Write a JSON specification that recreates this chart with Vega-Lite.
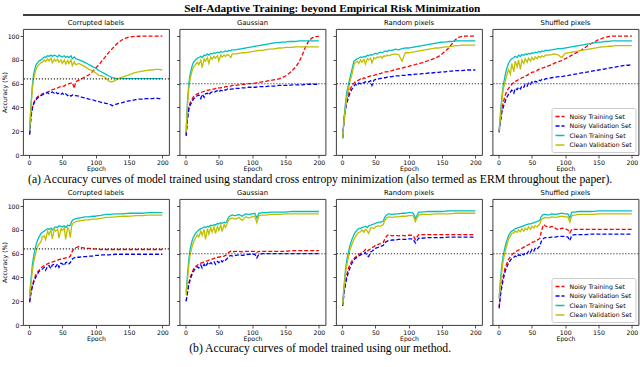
{
"$schema": "https://vega.github.io/schema/vega-lite/v6.json",
"padding": {"left": 0, "right": 0, "top": 2, "bottom": 0},
"background": "white",
"title": {"text": "Self-Adaptive Training: beyond Empirical Risk Minimization", "font": "Liberation Serif", "fontSize": 11.3, "fontWeight": "bold", "anchor": "middle", "offset": 0, "color": "#000"},
"spacing": 3,
"datasets": {
"a1": [
{"e":1,"nt":18,"nv":17,"ct":20,"cv":22},{"e":3,"nt":33,"nv":32,"ct":42,"cv":40},{"e":5,"nt":40,"nv":39,"ct":58,"cv":55},{"e":7,"nt":44,"nv":43,"ct":68,"cv":64},{"e":10,"nt":47,"nv":46,"ct":75,"cv":71},{"e":12,"nt":48.5,"nv":47.5,"ct":77,"cv":74},{"e":15,"nt":50,"nv":49,"ct":79,"cv":76},{"e":18,"nt":50.5,"nv":50,"ct":80,"cv":77.5},{"e":20,"nt":51.5,"nv":50.5,"ct":81,"cv":78},{"e":23,"nt":52,"nv":51.5,"ct":82.5,"cv":80},{"e":25,"nt":52.5,"nv":52,"ct":82,"cv":78.5},{"e":28,"nt":53,"nv":52.5,"ct":83.5,"cv":81},{"e":30,"nt":53.5,"nv":51.5,"ct":83,"cv":79},{"e":33,"nt":54,"nv":52.5,"ct":84,"cv":81.5},{"e":35,"nt":55,"nv":53,"ct":83,"cv":77.5},{"e":38,"nt":55.5,"nv":52,"ct":84,"cv":80.5},{"e":40,"nt":56,"nv":53,"ct":83.5,"cv":79},{"e":43,"nt":56.5,"nv":51.5,"ct":82.5,"cv":80.5},{"e":45,"nt":57,"nv":52,"ct":84,"cv":78},{"e":48,"nt":57.5,"nv":51,"ct":83,"cv":80},{"e":50,"nt":58,"nv":52,"ct":82.5,"cv":77},{"e":53,"nt":58,"nv":50.5,"ct":83.5,"cv":80},{"e":55,"nt":59,"nv":51.5,"ct":82,"cv":76.5},{"e":58,"nt":59.5,"nv":50,"ct":83,"cv":79.5},{"e":60,"nt":60,"nv":51,"ct":82,"cv":77},{"e":63,"nt":60.5,"nv":49.5,"ct":83.5,"cv":80},{"e":65,"nt":61,"nv":50.5,"ct":81,"cv":75},{"e":68,"nt":56,"nv":50,"ct":82.5,"cv":78.5},{"e":70,"nt":61.5,"nv":50,"ct":81,"cv":76},{"e":75,"nt":63,"nv":49.5,"ct":80,"cv":77},{"e":80,"nt":64.5,"nv":48.5,"ct":79,"cv":75.5},{"e":85,"nt":66,"nv":48,"ct":77.5,"cv":74},{"e":90,"nt":67.5,"nv":47,"ct":76,"cv":72},{"e":95,"nt":70,"nv":46.5,"ct":74.5,"cv":71},{"e":100,"nt":73,"nv":45.5,"ct":73,"cv":69},{"e":105,"nt":76,"nv":45,"ct":71,"cv":67},{"e":110,"nt":79.5,"nv":44,"ct":69.5,"cv":66.5},{"e":115,"nt":83,"nv":43.5,"ct":68,"cv":65},{"e":120,"nt":86.5,"nv":43,"ct":66.5,"cv":62},{"e":125,"nt":89.5,"nv":41.5,"ct":65,"cv":61.5},{"e":130,"nt":92.5,"nv":42.5,"ct":64.5,"cv":63},{"e":135,"nt":95,"nv":43.5,"ct":64.2,"cv":64.5},{"e":140,"nt":97,"nv":44,"ct":64.2,"cv":65.5},{"e":145,"nt":98.3,"nv":45,"ct":64.2,"cv":66.5},{"e":150,"nt":99.2,"nv":45.5,"ct":64.2,"cv":67.5},{"e":155,"nt":99.6,"nv":46,"ct":64.2,"cv":68.5},{"e":160,"nt":99.8,"nv":46.5,"ct":64.2,"cv":69.5},{"e":165,"nt":99.9,"nv":47,"ct":64.2,"cv":70},{"e":170,"nt":100,"nv":47,"ct":64.2,"cv":70.5},{"e":175,"nt":100,"nv":47.5,"ct":64.2,"cv":71},{"e":180,"nt":100,"nv":47.5,"ct":64.2,"cv":71.5},{"e":185,"nt":100,"nv":47.5,"ct":64.2,"cv":71.5},{"e":190,"nt":100,"nv":48,"ct":64.2,"cv":72},{"e":195,"nt":100,"nv":47.5,"ct":64.2,"cv":72},{"e":200,"nt":100,"nv":47.5,"ct":64.2,"cv":71.5}
],
"a2": [
{"e":1,"nt":17,"nv":16,"ct":20,"cv":19},{"e":3,"nt":32,"nv":30,"ct":45,"cv":42},{"e":5,"nt":40,"nv":38,"ct":60,"cv":56},{"e":7,"nt":44,"nv":42,"ct":68,"cv":64},{"e":10,"nt":47,"nv":45,"ct":75,"cv":71},{"e":12,"nt":49,"nv":47,"ct":78,"cv":74},{"e":15,"nt":50.5,"nv":48.5,"ct":80,"cv":76},{"e":18,"nt":51.5,"nv":50,"ct":81.5,"cv":78},{"e":20,"nt":52,"nv":50.5,"ct":82,"cv":76},{"e":23,"nt":52.5,"nv":47.5,"ct":83,"cv":80},{"e":25,"nt":53,"nv":51,"ct":82,"cv":73.5},{"e":28,"nt":53.5,"nv":48.5,"ct":84,"cv":81},{"e":30,"nt":54,"nv":51.5,"ct":83.5,"cv":79},{"e":33,"nt":54.5,"nv":52,"ct":85,"cv":82},{"e":35,"nt":54.5,"nv":50.5,"ct":84,"cv":77},{"e":38,"nt":55,"nv":52.5,"ct":85.5,"cv":82.5},{"e":40,"nt":55.5,"nv":53,"ct":85,"cv":80.5},{"e":43,"nt":55.5,"nv":52.5,"ct":86,"cv":83},{"e":45,"nt":56,"nv":53.5,"ct":85.5,"cv":81.5},{"e":48,"nt":56,"nv":54,"ct":86.5,"cv":83.5},{"e":50,"nt":56.5,"nv":53,"ct":86,"cv":79},{"e":53,"nt":56.5,"nv":54.5,"ct":87,"cv":84},{"e":55,"nt":57,"nv":54,"ct":86.5,"cv":82.5},{"e":58,"nt":57,"nv":55,"ct":87,"cv":84},{"e":60,"nt":57.5,"nv":54.5,"ct":87.5,"cv":83},{"e":63,"nt":57.5,"nv":55.5,"ct":87,"cv":84.5},{"e":65,"nt":58,"nv":55,"ct":88,"cv":84},{"e":68,"nt":58,"nv":55.5,"ct":87.5,"cv":82},{"e":70,"nt":58.5,"nv":55.5,"ct":88.5,"cv":85},{"e":75,"nt":58.5,"nv":56,"ct":88.5,"cv":85},{"e":80,"nt":59,"nv":56,"ct":89,"cv":85.5},{"e":85,"nt":59.5,"nv":56.5,"ct":89.5,"cv":86},{"e":90,"nt":59.5,"nv":56.5,"ct":90,"cv":86},{"e":95,"nt":60,"nv":57,"ct":90.5,"cv":86.5},{"e":100,"nt":60,"nv":57,"ct":91,"cv":87},{"e":105,"nt":60.5,"nv":57,"ct":91.5,"cv":87.5},{"e":110,"nt":61,"nv":57.5,"ct":92,"cv":88},{"e":115,"nt":61.5,"nv":57.5,"ct":92.5,"cv":88},{"e":120,"nt":62,"nv":57.5,"ct":93,"cv":88.5},{"e":125,"nt":62.5,"nv":58,"ct":93.5,"cv":89},{"e":130,"nt":63,"nv":58,"ct":94,"cv":89},{"e":135,"nt":63.5,"nv":58,"ct":94.5,"cv":89.5},{"e":140,"nt":64,"nv":58.5,"ct":94.5,"cv":90},{"e":145,"nt":65,"nv":58.5,"ct":95,"cv":90},{"e":150,"nt":66.5,"nv":58.5,"ct":95,"cv":90.5},{"e":155,"nt":68.5,"nv":58.5,"ct":95.5,"cv":90.5},{"e":160,"nt":71,"nv":59,"ct":95.5,"cv":90.5},{"e":165,"nt":74,"nv":59,"ct":95.5,"cv":91},{"e":170,"nt":78,"nv":59,"ct":96,"cv":91},{"e":175,"nt":84,"nv":59,"ct":96,"cv":91},{"e":180,"nt":91,"nv":59.5,"ct":96,"cv":91},{"e":185,"nt":96,"nv":59.5,"ct":96,"cv":91},{"e":190,"nt":98.5,"nv":59.5,"ct":96,"cv":91},{"e":195,"nt":99.5,"nv":59.5,"ct":96,"cv":91},{"e":200,"nt":99.8,"nv":59.5,"ct":96,"cv":91}
],
"a3": [
{"e":1,"nt":15,"nv":14,"ct":14.5,"cv":14.5},{"e":3,"nt":30,"nv":28,"ct":30,"cv":28},{"e":5,"nt":40,"nv":37,"ct":42,"cv":38},{"e":7,"nt":46,"nv":43,"ct":52,"cv":48},{"e":10,"nt":52,"nv":49,"ct":60,"cv":56},{"e":12,"nt":55,"nv":52,"ct":65,"cv":62},{"e":15,"nt":58.5,"nv":55.5,"ct":72,"cv":68},{"e":18,"nt":60.5,"nv":58,"ct":79,"cv":76},{"e":20,"nt":61.5,"nv":59.5,"ct":80,"cv":78},{"e":23,"nt":62.5,"nv":58.5,"ct":81,"cv":79},{"e":25,"nt":63,"nv":60.5,"ct":81.5,"cv":77},{"e":28,"nt":64,"nv":60,"ct":82.5,"cv":80},{"e":30,"nt":63.5,"nv":61,"ct":82,"cv":78},{"e":33,"nt":65,"nv":60.5,"ct":83,"cv":80.5},{"e":35,"nt":64.5,"nv":61.5,"ct":82.5,"cv":76.5},{"e":38,"nt":65.5,"nv":62,"ct":84,"cv":81},{"e":40,"nt":66,"nv":61.5,"ct":83.5,"cv":80},{"e":43,"nt":66.5,"nv":62.5,"ct":84.5,"cv":81.5},{"e":45,"nt":66.5,"nv":58.5,"ct":84,"cv":77.5},{"e":48,"nt":67,"nv":63,"ct":85,"cv":82},{"e":50,"nt":67.5,"nv":63.5,"ct":85.5,"cv":81},{"e":53,"nt":68,"nv":63.5,"ct":85,"cv":82.5},{"e":55,"nt":68.5,"nv":64,"ct":86,"cv":82},{"e":58,"nt":68.5,"nv":64.5,"ct":86.5,"cv":83},{"e":60,"nt":69,"nv":64.5,"ct":86,"cv":81.5},{"e":63,"nt":69.5,"nv":65,"ct":87,"cv":83.5},{"e":65,"nt":70,"nv":65,"ct":87.5,"cv":83},{"e":68,"nt":70,"nv":65.5,"ct":87,"cv":84},{"e":70,"nt":70.5,"nv":65.5,"ct":88,"cv":83.5},{"e":75,"nt":71,"nv":66,"ct":88,"cv":84.5},{"e":80,"nt":72,"nv":66.5,"ct":89,"cv":85},{"e":85,"nt":72.5,"nv":66.5,"ct":88.5,"cv":84.5},{"e":90,"nt":73,"nv":67,"ct":89.5,"cv":79},{"e":95,"nt":74,"nv":67,"ct":90,"cv":86},{"e":100,"nt":74.5,"nv":67.5,"ct":90,"cv":86},{"e":105,"nt":75.5,"nv":67.5,"ct":90.5,"cv":86.5},{"e":110,"nt":76,"nv":68,"ct":91,"cv":87},{"e":115,"nt":77,"nv":68,"ct":91.5,"cv":87.5},{"e":120,"nt":77.5,"nv":68.5,"ct":92,"cv":88},{"e":125,"nt":78.5,"nv":68.5,"ct":92.5,"cv":88.5},{"e":130,"nt":79.5,"nv":69,"ct":93,"cv":89},{"e":135,"nt":80.5,"nv":69,"ct":93.5,"cv":89.5},{"e":140,"nt":81.5,"nv":69.5,"ct":94,"cv":90},{"e":145,"nt":83,"nv":69.5,"ct":94.5,"cv":90},{"e":150,"nt":85,"nv":70,"ct":95,"cv":90.5},{"e":155,"nt":87.5,"nv":70,"ct":95,"cv":91},{"e":160,"nt":90,"nv":70.5,"ct":95.5,"cv":91},{"e":165,"nt":93.5,"nv":70.5,"ct":95.5,"cv":91.5},{"e":170,"nt":97,"nv":71,"ct":96,"cv":92},{"e":175,"nt":99,"nv":71,"ct":96,"cv":92},{"e":180,"nt":99.8,"nv":71,"ct":96,"cv":92.5},{"e":185,"nt":100,"nv":71.5,"ct":96,"cv":92.5},{"e":190,"nt":100,"nv":71.5,"ct":96,"cv":92.5},{"e":195,"nt":100,"nv":71.5,"ct":96,"cv":92.5},{"e":200,"nt":100,"nv":71.5,"ct":96,"cv":92.5}
],
"a4": [
{"e":1,"nt":20,"nv":19,"ct":20,"cv":20},{"e":3,"nt":30,"nv":28,"ct":35,"cv":33},{"e":5,"nt":38,"nv":36,"ct":48,"cv":45},{"e":7,"nt":44,"nv":40,"ct":58,"cv":55},{"e":10,"nt":50,"nv":45,"ct":67,"cv":62},{"e":12,"nt":53,"nv":48,"ct":72,"cv":66},{"e":15,"nt":56,"nv":51,"ct":77,"cv":72},{"e":18,"nt":58,"nv":53,"ct":80,"cv":68},{"e":20,"nt":59.5,"nv":54.5,"ct":81,"cv":77},{"e":23,"nt":61,"nv":52,"ct":82,"cv":70},{"e":25,"nt":62,"nv":56,"ct":83,"cv":79},{"e":28,"nt":62.5,"nv":55,"ct":82,"cv":74},{"e":30,"nt":63.5,"nv":57,"ct":84,"cv":80},{"e":33,"nt":64,"nv":55.5,"ct":83,"cv":72},{"e":35,"nt":65,"nv":58,"ct":84.5,"cv":80},{"e":38,"nt":65.5,"nv":57,"ct":84,"cv":77},{"e":40,"nt":66.5,"nv":59.5,"ct":85,"cv":81},{"e":43,"nt":67,"nv":58,"ct":84.5,"cv":78},{"e":45,"nt":68,"nv":60.5,"ct":85.5,"cv":81.5},{"e":48,"nt":68.5,"nv":59.5,"ct":85,"cv":79},{"e":50,"nt":69.5,"nv":61.5,"ct":86,"cv":82},{"e":53,"nt":70,"nv":60.5,"ct":85.5,"cv":80},{"e":55,"nt":70.5,"nv":62,"ct":86.5,"cv":82.5},{"e":58,"nt":71,"nv":61.5,"ct":86,"cv":81},{"e":60,"nt":72,"nv":63,"ct":87,"cv":83},{"e":63,"nt":72.5,"nv":62.5,"ct":86.5,"cv":82},{"e":65,"nt":73,"nv":63.5,"ct":87.5,"cv":83.5},{"e":68,"nt":73.5,"nv":63,"ct":87,"cv":82.5},{"e":70,"nt":74,"nv":64,"ct":88,"cv":84},{"e":75,"nt":75,"nv":64.5,"ct":88,"cv":84},{"e":80,"nt":76,"nv":65,"ct":88.5,"cv":84.5},{"e":85,"nt":77.5,"nv":65.5,"ct":89,"cv":85},{"e":90,"nt":78.5,"nv":66,"ct":89.5,"cv":84},{"e":95,"nt":79.5,"nv":66,"ct":89.5,"cv":82},{"e":100,"nt":81,"nv":66.5,"ct":90,"cv":85.5},{"e":105,"nt":82.5,"nv":67,"ct":90.5,"cv":86},{"e":110,"nt":84,"nv":67.5,"ct":91,"cv":86.5},{"e":115,"nt":85.5,"nv":68,"ct":91.5,"cv":87},{"e":120,"nt":87,"nv":68.5,"ct":92,"cv":87.5},{"e":125,"nt":88.5,"nv":69,"ct":92.5,"cv":88},{"e":130,"nt":90.5,"nv":69.5,"ct":93,"cv":88.5},{"e":135,"nt":92.5,"nv":70,"ct":93.5,"cv":89},{"e":140,"nt":94,"nv":70.5,"ct":94,"cv":89.5},{"e":145,"nt":95.5,"nv":71,"ct":94.5,"cv":90},{"e":150,"nt":97,"nv":71.5,"ct":95,"cv":90.5},{"e":155,"nt":98,"nv":72,"ct":95,"cv":91},{"e":160,"nt":99,"nv":72.5,"ct":95.5,"cv":91},{"e":165,"nt":99.5,"nv":73,"ct":95.5,"cv":91.5},{"e":170,"nt":100,"nv":73.5,"ct":96,"cv":91.5},{"e":175,"nt":100,"nv":74,"ct":96,"cv":92},{"e":180,"nt":100,"nv":74.5,"ct":96,"cv":92},{"e":185,"nt":100,"nv":75,"ct":96,"cv":92},{"e":190,"nt":100,"nv":75.5,"ct":96,"cv":92},{"e":195,"nt":100,"nv":75.5,"ct":96,"cv":92},{"e":200,"nt":100,"nv":76,"ct":96,"cv":92}
],
"b1": [
{"e":1,"nt":20,"nv":19,"ct":25,"cv":23},{"e":3,"nt":28,"nv":27,"ct":38,"cv":35},{"e":5,"nt":33,"nv":32,"ct":50,"cv":45},{"e":7,"nt":37,"nv":36,"ct":58,"cv":53},{"e":10,"nt":42,"nv":40,"ct":66,"cv":60},{"e":12,"nt":44,"nv":42,"ct":70,"cv":65},{"e":15,"nt":46,"nv":45,"ct":74,"cv":68},{"e":18,"nt":48,"nv":46,"ct":77,"cv":70},{"e":20,"nt":49,"nv":47,"ct":78,"cv":74},{"e":23,"nt":50,"nv":48.5,"ct":79,"cv":75},{"e":25,"nt":50.5,"nv":46,"ct":80,"cv":72},{"e":28,"nt":51.5,"nv":49.5,"ct":81,"cv":79},{"e":30,"nt":52,"nv":50,"ct":80.5,"cv":76},{"e":33,"nt":52.5,"nv":47.5,"ct":81.5,"cv":80},{"e":35,"nt":53,"nv":50.5,"ct":80,"cv":72.5},{"e":38,"nt":53.5,"nv":51,"ct":82,"cv":80.5},{"e":40,"nt":54,"nv":49,"ct":82.5,"cv":79},{"e":43,"nt":54.5,"nv":51.5,"ct":82,"cv":80.5},{"e":45,"nt":55,"nv":48.5,"ct":83.5,"cv":73},{"e":48,"nt":55.5,"nv":52,"ct":83,"cv":81},{"e":50,"nt":56,"nv":51.5,"ct":82.5,"cv":79.5},{"e":53,"nt":56,"nv":50,"ct":83.5,"cv":81.5},{"e":55,"nt":56.5,"nv":52.5,"ct":82,"cv":72},{"e":58,"nt":57,"nv":53,"ct":84,"cv":82},{"e":60,"nt":57,"nv":51.5,"ct":83.5,"cv":80},{"e":62,"nt":58,"nv":52.5,"ct":84,"cv":73.5},{"e":64,"nt":61,"nv":55,"ct":87,"cv":83.5},{"e":66,"nt":63,"nv":56,"ct":88.5,"cv":85.5},{"e":68,"nt":64.5,"nv":56.5,"ct":89,"cv":86.5},{"e":70,"nt":65,"nv":57,"ct":89.5,"cv":87},{"e":75,"nt":66,"nv":57,"ct":90,"cv":87.5},{"e":80,"nt":65,"nv":57.5,"ct":90.5,"cv":88},{"e":85,"nt":64.5,"nv":57.5,"ct":91,"cv":88.5},{"e":90,"nt":64.5,"nv":58,"ct":91,"cv":88.5},{"e":95,"nt":64,"nv":58,"ct":91.5,"cv":89},{"e":100,"nt":64,"nv":58.5,"ct":91.5,"cv":89},{"e":104,"nt":64,"nv":58.5,"ct":92,"cv":89.5},{"e":107,"nt":63.5,"nv":58.5,"ct":92,"cv":89.5},{"e":110,"nt":63.5,"nv":59,"ct":92.5,"cv":90},{"e":115,"nt":63.5,"nv":59,"ct":93,"cv":90.5},{"e":120,"nt":63.5,"nv":59,"ct":93,"cv":90.5},{"e":130,"nt":63.5,"nv":59.5,"ct":93.5,"cv":91},{"e":140,"nt":63.5,"nv":59.5,"ct":93.5,"cv":91.5},{"e":150,"nt":63.5,"nv":59.5,"ct":94,"cv":91.5},{"e":160,"nt":63.5,"nv":59.5,"ct":94,"cv":92},{"e":170,"nt":63.5,"nv":59.5,"ct":94,"cv":92},{"e":180,"nt":63.5,"nv":59.5,"ct":94.5,"cv":92.5},{"e":190,"nt":63.5,"nv":59.5,"ct":94.5,"cv":92.5},{"e":200,"nt":63.5,"nv":59.5,"ct":94.5,"cv":92.5}
],
"b2": [
{"e":1,"nt":20,"nv":20,"ct":27,"cv":25},{"e":3,"nt":28,"nv":27,"ct":42,"cv":38},{"e":5,"nt":35,"nv":34,"ct":55,"cv":50},{"e":7,"nt":40,"nv":38,"ct":64,"cv":59},{"e":10,"nt":44,"nv":43,"ct":71,"cv":66},{"e":12,"nt":47,"nv":45,"ct":74,"cv":70},{"e":15,"nt":49,"nv":48,"ct":77,"cv":73},{"e":18,"nt":50.5,"nv":49,"ct":79,"cv":76},{"e":20,"nt":51,"nv":48,"ct":80,"cv":74},{"e":23,"nt":52,"nv":50.5,"ct":81,"cv":79},{"e":25,"nt":52.5,"nv":48,"ct":81.5,"cv":75.5},{"e":28,"nt":53,"nv":51,"ct":82.5,"cv":80.5},{"e":30,"nt":53.5,"nv":49,"ct":82,"cv":72},{"e":33,"nt":54,"nv":52,"ct":83,"cv":81},{"e":35,"nt":54.5,"nv":50.5,"ct":82.5,"cv":76.5},{"e":38,"nt":55,"nv":52.5,"ct":84,"cv":82},{"e":40,"nt":55.5,"nv":51.5,"ct":83.5,"cv":78},{"e":43,"nt":56,"nv":53,"ct":84.5,"cv":82.5},{"e":45,"nt":56.5,"nv":51,"ct":84,"cv":77},{"e":48,"nt":57,"nv":53.5,"ct":85.5,"cv":83},{"e":50,"nt":57,"nv":52.5,"ct":85,"cv":79.5},{"e":53,"nt":57.5,"nv":54.5,"ct":86,"cv":84},{"e":55,"nt":57.5,"nv":53,"ct":85.5,"cv":78.5},{"e":58,"nt":58,"nv":55,"ct":86.5,"cv":84.5},{"e":60,"nt":58.5,"nv":54.5,"ct":86,"cv":82},{"e":62,"nt":59,"nv":55.5,"ct":87,"cv":84.5},{"e":64,"nt":60.5,"nv":57,"ct":90,"cv":87.5},{"e":66,"nt":61.5,"nv":58,"ct":91.5,"cv":89},{"e":68,"nt":62,"nv":58.5,"ct":92,"cv":89.5},{"e":70,"nt":61.5,"nv":58,"ct":92.5,"cv":90},{"e":75,"nt":62,"nv":58.5,"ct":92,"cv":89},{"e":80,"nt":62,"nv":59,"ct":93,"cv":90.5},{"e":85,"nt":61.5,"nv":58.5,"ct":91.5,"cv":88},{"e":90,"nt":62,"nv":59,"ct":93.5,"cv":91},{"e":95,"nt":62,"nv":59.5,"ct":93,"cv":90},{"e":100,"nt":62,"nv":59.5,"ct":93.5,"cv":91},{"e":104,"nt":62,"nv":59.5,"ct":94,"cv":91.5},{"e":107,"nt":61,"nv":56.5,"ct":90,"cv":86},{"e":110,"nt":62,"nv":59.5,"ct":94,"cv":92},{"e":115,"nt":62,"nv":60,"ct":94.5,"cv":92.5},{"e":120,"nt":62,"nv":60,"ct":94.5,"cv":92.5},{"e":130,"nt":62,"nv":60,"ct":95,"cv":93},{"e":140,"nt":62,"nv":60,"ct":95,"cv":93},{"e":150,"nt":62,"nv":60,"ct":95,"cv":93.5},{"e":160,"nt":62.5,"nv":60,"ct":95.5,"cv":93.5},{"e":170,"nt":62.5,"nv":60,"ct":95.5,"cv":93.5},{"e":180,"nt":62.5,"nv":60,"ct":95.5,"cv":93.5},{"e":190,"nt":62.5,"nv":60,"ct":95.5,"cv":93.5},{"e":200,"nt":62.5,"nv":60,"ct":95.5,"cv":93.5}
],
"b3": [
{"e":1,"nt":17,"nv":16,"ct":18,"cv":17},{"e":3,"nt":28,"nv":26,"ct":32,"cv":30},{"e":5,"nt":36,"nv":33,"ct":45,"cv":42},{"e":7,"nt":42,"nv":39,"ct":54,"cv":50},{"e":10,"nt":48,"nv":45,"ct":62,"cv":58},{"e":12,"nt":51,"nv":48,"ct":67,"cv":63},{"e":15,"nt":54,"nv":52,"ct":72,"cv":68},{"e":18,"nt":56,"nv":54.5,"ct":76,"cv":72},{"e":20,"nt":57,"nv":56,"ct":78,"cv":74},{"e":23,"nt":58.5,"nv":57,"ct":80,"cv":76.5},{"e":25,"nt":59.5,"nv":58,"ct":81,"cv":78},{"e":28,"nt":60,"nv":59,"ct":81.5,"cv":78.5},{"e":30,"nt":61.5,"nv":59.5,"ct":82,"cv":80},{"e":33,"nt":62,"nv":60,"ct":82.5,"cv":78},{"e":35,"nt":63.5,"nv":61,"ct":83,"cv":80.5},{"e":38,"nt":62,"nv":58,"ct":82,"cv":79},{"e":40,"nt":63,"nv":57.5,"ct":83.5,"cv":77},{"e":43,"nt":64,"nv":61.5,"ct":84,"cv":81.5},{"e":45,"nt":65,"nv":62,"ct":84.5,"cv":82},{"e":48,"nt":66,"nv":63.5,"ct":85,"cv":81},{"e":50,"nt":67,"nv":64.5,"ct":85.5,"cv":82.5},{"e":53,"nt":67.5,"nv":65,"ct":86,"cv":83},{"e":55,"nt":68,"nv":65.5,"ct":86.5,"cv":83.5},{"e":58,"nt":68.5,"nv":66,"ct":86.5,"cv":83},{"e":60,"nt":69,"nv":66.5,"ct":87,"cv":84},{"e":62,"nt":69.5,"nv":67,"ct":87.5,"cv":84.5},{"e":64,"nt":72,"nv":69,"ct":90.5,"cv":88},{"e":66,"nt":74,"nv":70,"ct":92,"cv":89.5},{"e":68,"nt":75.5,"nv":70.5,"ct":93,"cv":90.5},{"e":70,"nt":76,"nv":71,"ct":93.5,"cv":91},{"e":75,"nt":75,"nv":71.5,"ct":93,"cv":90.5},{"e":80,"nt":75.5,"nv":71.5,"ct":93.5,"cv":91},{"e":85,"nt":75,"nv":72,"ct":93.5,"cv":91},{"e":90,"nt":75.5,"nv":72,"ct":94,"cv":91.5},{"e":95,"nt":75,"nv":72,"ct":94,"cv":91.5},{"e":100,"nt":75.5,"nv":72.5,"ct":94.5,"cv":92},{"e":104,"nt":75.5,"nv":72.5,"ct":94.5,"cv":92},{"e":107,"nt":75,"nv":72,"ct":94,"cv":92},{"e":110,"nt":72,"nv":69,"ct":89.5,"cv":87},{"e":115,"nt":76,"nv":73,"ct":95,"cv":92.5},{"e":120,"nt":76,"nv":73,"ct":95,"cv":93},{"e":130,"nt":76,"nv":73.5,"ct":95.5,"cv":93},{"e":140,"nt":76,"nv":73.5,"ct":95.5,"cv":93.5},{"e":150,"nt":76,"nv":73.5,"ct":95.5,"cv":93.5},{"e":160,"nt":76,"nv":74,"ct":96,"cv":93.5},{"e":170,"nt":76,"nv":74,"ct":96,"cv":94},{"e":180,"nt":76,"nv":74,"ct":96,"cv":94},{"e":190,"nt":76,"nv":74,"ct":96,"cv":94},{"e":200,"nt":76,"nv":74,"ct":96,"cv":94}
],
"b4": [
{"e":1,"nt":15,"nv":14,"ct":23,"cv":22},{"e":3,"nt":27,"nv":25,"ct":38,"cv":35},{"e":5,"nt":35,"nv":32,"ct":50,"cv":45},{"e":7,"nt":41,"nv":38,"ct":58,"cv":54},{"e":10,"nt":48,"nv":45,"ct":66,"cv":62},{"e":12,"nt":51,"nv":48,"ct":70,"cv":66},{"e":15,"nt":55,"nv":52,"ct":75,"cv":72},{"e":18,"nt":57.5,"nv":54.5,"ct":78,"cv":75},{"e":20,"nt":59,"nv":56,"ct":79,"cv":77},{"e":23,"nt":60.5,"nv":57,"ct":80,"cv":77.5},{"e":25,"nt":61,"nv":58,"ct":81,"cv":79},{"e":28,"nt":62.5,"nv":57,"ct":81.5,"cv":78},{"e":30,"nt":63,"nv":59,"ct":82,"cv":80},{"e":33,"nt":64,"nv":58.5,"ct":82.5,"cv":78.5},{"e":35,"nt":64.5,"nv":60,"ct":83,"cv":81},{"e":38,"nt":65.5,"nv":59,"ct":83.5,"cv":79},{"e":40,"nt":66,"nv":61,"ct":84,"cv":81.5},{"e":43,"nt":67,"nv":60,"ct":84.5,"cv":80},{"e":45,"nt":67.5,"nv":62,"ct":85,"cv":82.5},{"e":48,"nt":68.5,"nv":61,"ct":85,"cv":80.5},{"e":50,"nt":69.5,"nv":63.5,"ct":85.5,"cv":83},{"e":53,"nt":70,"nv":62,"ct":86,"cv":81.5},{"e":55,"nt":70.5,"nv":64.5,"ct":86.5,"cv":83.5},{"e":58,"nt":71.5,"nv":63.5,"ct":87,"cv":82.5},{"e":60,"nt":72,"nv":65.5,"ct":87.5,"cv":84},{"e":62,"nt":73,"nv":66,"ct":88,"cv":85},{"e":64,"nt":78,"nv":70,"ct":91,"cv":88.5},{"e":66,"nt":82,"nv":72,"ct":92.5,"cv":89.5},{"e":68,"nt":84.5,"nv":73,"ct":93,"cv":90},{"e":70,"nt":83.5,"nv":73.5,"ct":93,"cv":90.5},{"e":75,"nt":82,"nv":73.5,"ct":92.5,"cv":90},{"e":80,"nt":83,"nv":74,"ct":93.5,"cv":91},{"e":85,"nt":81.5,"nv":74,"ct":93,"cv":90.5},{"e":90,"nt":80,"nv":74.5,"ct":93.5,"cv":91},{"e":95,"nt":81.5,"nv":74.5,"ct":94,"cv":91.5},{"e":100,"nt":81,"nv":74.5,"ct":93.5,"cv":91},{"e":104,"nt":80,"nv":74,"ct":93.5,"cv":91},{"e":107,"nt":77.5,"nv":71,"ct":90,"cv":86.5},{"e":110,"nt":80.5,"nv":75.5,"ct":95,"cv":92},{"e":115,"nt":80.5,"nv":76,"ct":95,"cv":92.5},{"e":120,"nt":80.5,"nv":76,"ct":95.5,"cv":93},{"e":130,"nt":80.5,"nv":76,"ct":95.5,"cv":93},{"e":140,"nt":80.5,"nv":76.5,"ct":95.5,"cv":93},{"e":150,"nt":80.5,"nv":76.5,"ct":96,"cv":93.5},{"e":160,"nt":80.5,"nv":76.5,"ct":96,"cv":93.5},{"e":170,"nt":80.5,"nv":76.5,"ct":96,"cv":93.5},{"e":180,"nt":80.5,"nv":76.5,"ct":96,"cv":93.5},{"e":190,"nt":80.5,"nv":76.5,"ct":96,"cv":93.5},{"e":200,"nt":80.5,"nv":76.5,"ct":96,"cv":93.5}
]
},
"vconcat": [
{
"width": 640, "height": 1,
"view": {"stroke": null},
"data": {"values": [{"r": 1}]},
"mark": {"type": "rule", "color": "#000", "strokeWidth": 1.6},
"encoding": {"y": {"field": "r", "type": "quantitative", "scale": {"domain": [0, 1]}, "axis": null}}
},
{
"spacing": 5.5,
"title": {"text": "(a) Accuracy curves of model trained using standard cross entropy minimization (also termed as ERM throughout the paper).", "orient": "bottom", "font": "Liberation Serif", "fontSize": 11.7, "fontWeight": "normal", "anchor": "middle", "offset": 2, "color": "#000"},
"resolve": {"scale": {"color": "independent", "strokeDash": "independent"}, "legend": {"color": "independent", "strokeDash": "independent"}},
"hconcat": [
{"title": {"text": "Corrupted labels"}, "width": 146, "height": 126, "data": {"name": "a1"},
"layer": [
{"transform": [{"fold": ["nt","nv","ct","cv"], "as": ["s","v"]}], "mark": {"type": "line", "strokeWidth": 1.3},
"encoding": {
"x": {"field": "e", "type": "quantitative", "title": "Epoch", "scale": {"domain": [-8.95, 209.95], "nice": false, "zero": false}, "axis": {"values": [0,50,100,150,200]}},
"y": {"field": "v", "type": "quantitative", "title": "Accuracy (%)", "scale": {"domain": [0, 106], "nice": false}, "axis": {"values": [0,20,40,60,80,100], "labelOverlap": false, "labelFlush": false, "labelBound": false}},
"color": {"field": "s", "type": "nominal", "scale": {"domain": ["nt","nv","ct","cv"], "range": ["#ff0000","#0000ff","#00bfbf","#bfbf00"]}, "legend": null},
"strokeDash": {"field": "s", "type": "nominal", "scale": {"domain": ["nt","nv","ct","cv"], "range": [[4,2],[4,2],[1,0],[1,0]]}, "legend": null}}},
{"data": {"values": [{"r": 64}]}, "mark": {"type": "rule", "color": "#333", "strokeWidth": 1.1, "strokeDash": [1.2, 1.8]},
"encoding": {"y": {"field": "r", "type": "quantitative", "title": "Accuracy (%)", "axis": {"values": [0,20,40,60,80,100], "labelOverlap": false, "labelFlush": false, "labelBound": false}}}}
]},
{"title": {"text": "Gaussian"}, "width": 146, "height": 126, "data": {"name": "a2"},
"layer": [
{"transform": [{"fold": ["nt","nv","ct","cv"], "as": ["s","v"]}], "mark": {"type": "line", "strokeWidth": 1.3},
"encoding": {
"x": {"field": "e", "type": "quantitative", "title": "Epoch", "scale": {"domain": [-8.95, 209.95], "nice": false, "zero": false}, "axis": {"values": [0,50,100,150,200]}},
"y": {"field": "v", "type": "quantitative", "title": null, "scale": {"domain": [0, 106], "nice": false}, "axis": {"values": [0,20,40,60,80,100], "labels": false}},
"color": {"field": "s", "type": "nominal", "scale": {"domain": ["nt","nv","ct","cv"], "range": ["#ff0000","#0000ff","#00bfbf","#bfbf00"]}, "legend": null},
"strokeDash": {"field": "s", "type": "nominal", "scale": {"domain": ["nt","nv","ct","cv"], "range": [[4,2],[4,2],[1,0],[1,0]]}, "legend": null}}},
{"data": {"values": [{"r": 60}]}, "mark": {"type": "rule", "color": "#333", "strokeWidth": 1.1, "strokeDash": [1.2, 1.8]},
"encoding": {"y": {"field": "r", "type": "quantitative", "title": null, "axis": {"values": [0,20,40,60,80,100], "labels": false}}}}
]},
{"title": {"text": "Random pixels"}, "width": 146, "height": 126, "data": {"name": "a3"},
"layer": [
{"transform": [{"fold": ["nt","nv","ct","cv"], "as": ["s","v"]}], "mark": {"type": "line", "strokeWidth": 1.3},
"encoding": {
"x": {"field": "e", "type": "quantitative", "title": "Epoch", "scale": {"domain": [-8.95, 209.95], "nice": false, "zero": false}, "axis": {"values": [0,50,100,150,200]}},
"y": {"field": "v", "type": "quantitative", "title": null, "scale": {"domain": [0, 106], "nice": false}, "axis": {"values": [0,20,40,60,80,100], "labels": false}},
"color": {"field": "s", "type": "nominal", "scale": {"domain": ["nt","nv","ct","cv"], "range": ["#ff0000","#0000ff","#00bfbf","#bfbf00"]}, "legend": null},
"strokeDash": {"field": "s", "type": "nominal", "scale": {"domain": ["nt","nv","ct","cv"], "range": [[4,2],[4,2],[1,0],[1,0]]}, "legend": null}}},
{"data": {"values": [{"r": 60}]}, "mark": {"type": "rule", "color": "#333", "strokeWidth": 1.1, "strokeDash": [1.2, 1.8]},
"encoding": {"y": {"field": "r", "type": "quantitative", "title": null, "axis": {"values": [0,20,40,60,80,100], "labels": false}}}}
]},
{"title": {"text": "Shuffled pixels"}, "width": 146, "height": 126, "data": {"name": "a4"},
"layer": [
{"transform": [{"fold": ["nt","nv","ct","cv"], "as": ["s","v"]}], "mark": {"type": "line", "strokeWidth": 1.3},
"encoding": {
"x": {"field": "e", "type": "quantitative", "title": "Epoch", "scale": {"domain": [-8.95, 209.95], "nice": false, "zero": false}, "axis": {"values": [0,50,100,150,200]}},
"y": {"field": "v", "type": "quantitative", "title": null, "scale": {"domain": [0, 106], "nice": false}, "axis": {"values": [0,20,40,60,80,100], "labels": false}},
"color": {"field": "s", "type": "nominal", "scale": {"domain": ["nt","nv","ct","cv"], "range": ["#ff0000","#0000ff","#00bfbf","#bfbf00"]},
"legend": {"orient": "bottom-right", "title": null, "offset": 3, "symbolType": "stroke", "symbolSize": 80, "symbolStrokeWidth": 1.4, "labelFont": "DejaVu Sans", "labelFontSize": 6.2, "labelColor": "#000", "rowPadding": 0.5, "padding": 3, "strokeColor": "#cccccc", "fillColor": "#ffffff", "cornerRadius": 2, "labelExpr": "datum.value == 'nt' ? 'Noisy Training Set' : datum.value == 'nv' ? 'Noisy Validation Set' : datum.value == 'ct' ? 'Clean Training Set' : 'Clean Validation Set'"}},
"strokeDash": {"field": "s", "type": "nominal", "scale": {"domain": ["nt","nv","ct","cv"], "range": [[4,2],[4,2],[1,0],[1,0]]},
"legend": {"orient": "bottom-right", "title": null, "offset": 3, "symbolType": "stroke", "symbolSize": 80, "symbolStrokeWidth": 1.4, "labelFont": "DejaVu Sans", "labelFontSize": 6.2, "labelColor": "#000", "rowPadding": 0.5, "padding": 3, "strokeColor": "#cccccc", "fillColor": "#ffffff", "cornerRadius": 2, "labelExpr": "datum.value == 'nt' ? 'Noisy Training Set' : datum.value == 'nv' ? 'Noisy Validation Set' : datum.value == 'ct' ? 'Clean Training Set' : 'Clean Validation Set'"}}}},
{"data": {"values": [{"r": 60}]}, "mark": {"type": "rule", "color": "#333", "strokeWidth": 1.1, "strokeDash": [1.2, 1.8]},
"encoding": {"y": {"field": "r", "type": "quantitative", "title": null, "axis": {"values": [0,20,40,60,80,100], "labels": false}}}}
]}
]
},
{
"spacing": 5.5,
"title": {"text": "(b) Accuracy curves of model trained using our method.", "orient": "bottom", "font": "Liberation Serif", "fontSize": 11.7, "fontWeight": "normal", "anchor": "middle", "offset": 1, "color": "#000"},
"resolve": {"scale": {"color": "independent", "strokeDash": "independent"}, "legend": {"color": "independent", "strokeDash": "independent"}},
"hconcat": [
{"title": {"text": "Corrupted labels"}, "width": 146, "height": 126, "data": {"name": "b1"},
"layer": [
{"transform": [{"fold": ["nt","nv","ct","cv"], "as": ["s","v"]}], "mark": {"type": "line", "strokeWidth": 1.3},
"encoding": {
"x": {"field": "e", "type": "quantitative", "title": "Epoch", "scale": {"domain": [-8.95, 209.95], "nice": false, "zero": false}, "axis": {"values": [0,50,100,150,200]}},
"y": {"field": "v", "type": "quantitative", "title": "Accuracy (%)", "scale": {"domain": [0, 106], "nice": false}, "axis": {"values": [0,20,40,60,80,100], "labelOverlap": false, "labelFlush": false, "labelBound": false}},
"color": {"field": "s", "type": "nominal", "scale": {"domain": ["nt","nv","ct","cv"], "range": ["#ff0000","#0000ff","#00bfbf","#bfbf00"]}, "legend": null},
"strokeDash": {"field": "s", "type": "nominal", "scale": {"domain": ["nt","nv","ct","cv"], "range": [[4,2],[4,2],[1,0],[1,0]]}, "legend": null}}},
{"data": {"values": [{"r": 64}]}, "mark": {"type": "rule", "color": "#333", "strokeWidth": 1.1, "strokeDash": [1.2, 1.8]},
"encoding": {"y": {"field": "r", "type": "quantitative", "title": "Accuracy (%)", "axis": {"values": [0,20,40,60,80,100], "labelOverlap": false, "labelFlush": false, "labelBound": false}}}}
]},
{"title": {"text": "Gaussian"}, "width": 146, "height": 126, "data": {"name": "b2"},
"layer": [
{"transform": [{"fold": ["nt","nv","ct","cv"], "as": ["s","v"]}], "mark": {"type": "line", "strokeWidth": 1.3},
"encoding": {
"x": {"field": "e", "type": "quantitative", "title": "Epoch", "scale": {"domain": [-8.95, 209.95], "nice": false, "zero": false}, "axis": {"values": [0,50,100,150,200]}},
"y": {"field": "v", "type": "quantitative", "title": null, "scale": {"domain": [0, 106], "nice": false}, "axis": {"values": [0,20,40,60,80,100], "labels": false}},
"color": {"field": "s", "type": "nominal", "scale": {"domain": ["nt","nv","ct","cv"], "range": ["#ff0000","#0000ff","#00bfbf","#bfbf00"]}, "legend": null},
"strokeDash": {"field": "s", "type": "nominal", "scale": {"domain": ["nt","nv","ct","cv"], "range": [[4,2],[4,2],[1,0],[1,0]]}, "legend": null}}},
{"data": {"values": [{"r": 60}]}, "mark": {"type": "rule", "color": "#333", "strokeWidth": 1.1, "strokeDash": [1.2, 1.8]},
"encoding": {"y": {"field": "r", "type": "quantitative", "title": null, "axis": {"values": [0,20,40,60,80,100], "labels": false}}}}
]},
{"title": {"text": "Random pixels"}, "width": 146, "height": 126, "data": {"name": "b3"},
"layer": [
{"transform": [{"fold": ["nt","nv","ct","cv"], "as": ["s","v"]}], "mark": {"type": "line", "strokeWidth": 1.3},
"encoding": {
"x": {"field": "e", "type": "quantitative", "title": "Epoch", "scale": {"domain": [-8.95, 209.95], "nice": false, "zero": false}, "axis": {"values": [0,50,100,150,200]}},
"y": {"field": "v", "type": "quantitative", "title": null, "scale": {"domain": [0, 106], "nice": false}, "axis": {"values": [0,20,40,60,80,100], "labels": false}},
"color": {"field": "s", "type": "nominal", "scale": {"domain": ["nt","nv","ct","cv"], "range": ["#ff0000","#0000ff","#00bfbf","#bfbf00"]}, "legend": null},
"strokeDash": {"field": "s", "type": "nominal", "scale": {"domain": ["nt","nv","ct","cv"], "range": [[4,2],[4,2],[1,0],[1,0]]}, "legend": null}}},
{"data": {"values": [{"r": 60}]}, "mark": {"type": "rule", "color": "#333", "strokeWidth": 1.1, "strokeDash": [1.2, 1.8]},
"encoding": {"y": {"field": "r", "type": "quantitative", "title": null, "axis": {"values": [0,20,40,60,80,100], "labels": false}}}}
]},
{"title": {"text": "Shuffled pixels"}, "width": 146, "height": 126, "data": {"name": "b4"},
"layer": [
{"transform": [{"fold": ["nt","nv","ct","cv"], "as": ["s","v"]}], "mark": {"type": "line", "strokeWidth": 1.3},
"encoding": {
"x": {"field": "e", "type": "quantitative", "title": "Epoch", "scale": {"domain": [-8.95, 209.95], "nice": false, "zero": false}, "axis": {"values": [0,50,100,150,200]}},
"y": {"field": "v", "type": "quantitative", "title": null, "scale": {"domain": [0, 106], "nice": false}, "axis": {"values": [0,20,40,60,80,100], "labels": false}},
"color": {"field": "s", "type": "nominal", "scale": {"domain": ["nt","nv","ct","cv"], "range": ["#ff0000","#0000ff","#00bfbf","#bfbf00"]},
"legend": {"orient": "bottom-right", "title": null, "offset": 3, "symbolType": "stroke", "symbolSize": 80, "symbolStrokeWidth": 1.4, "labelFont": "DejaVu Sans", "labelFontSize": 6.2, "labelColor": "#000", "rowPadding": 0.5, "padding": 3, "strokeColor": "#cccccc", "fillColor": "#ffffff", "cornerRadius": 2, "labelExpr": "datum.value == 'nt' ? 'Noisy Training Set' : datum.value == 'nv' ? 'Noisy Validation Set' : datum.value == 'ct' ? 'Clean Training Set' : 'Clean Validation Set'"}},
"strokeDash": {"field": "s", "type": "nominal", "scale": {"domain": ["nt","nv","ct","cv"], "range": [[4,2],[4,2],[1,0],[1,0]]},
"legend": {"orient": "bottom-right", "title": null, "offset": 3, "symbolType": "stroke", "symbolSize": 80, "symbolStrokeWidth": 1.4, "labelFont": "DejaVu Sans", "labelFontSize": 6.2, "labelColor": "#000", "rowPadding": 0.5, "padding": 3, "strokeColor": "#cccccc", "fillColor": "#ffffff", "cornerRadius": 2, "labelExpr": "datum.value == 'nt' ? 'Noisy Training Set' : datum.value == 'nv' ? 'Noisy Validation Set' : datum.value == 'ct' ? 'Clean Training Set' : 'Clean Validation Set'"}}}},
{"data": {"values": [{"r": 60}]}, "mark": {"type": "rule", "color": "#333", "strokeWidth": 1.1, "strokeDash": [1.2, 1.8]},
"encoding": {"y": {"field": "r", "type": "quantitative", "title": null, "axis": {"values": [0,20,40,60,80,100], "labels": false}}}}
]}
]
}
],
"config": {
"font": "DejaVu Sans",
"view": {"stroke": "#262626", "strokeWidth": 0.9},
"axis": {"grid": false, "domain": false, "ticks": true, "tickColor": "#262626", "tickSize": 3, "tickWidth": 0.8, "labelFont": "DejaVu Sans", "labelFontSize": 6.2, "labelColor": "#000", "labelPadding": 1, "labelOverlap": false, "titleFont": "DejaVu Sans", "titleFontSize": 6.2, "titleFontWeight": "normal", "titleColor": "#000", "titlePadding": 0},
"title": {"font": "DejaVu Sans", "fontSize": 6.8, "fontWeight": "normal", "color": "#000", "offset": 2}
}
}
